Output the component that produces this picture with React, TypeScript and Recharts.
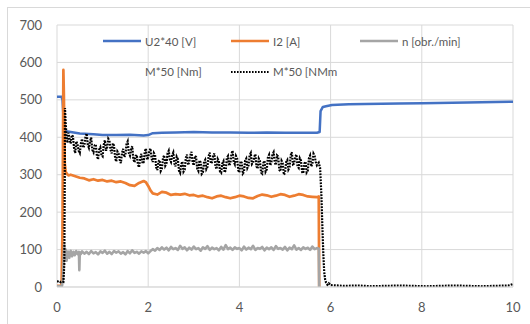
import React from 'react';
import { LineChart, Line, XAxis, YAxis, CartesianGrid, Legend } from 'recharts';

const FONT = 'Lato, "Open Sans", sans-serif';
const TEXT = '#595959';
const GRID = '#d9d9d9';

const xTicks = [0, 2, 4, 6, 8, 10];
const yTicks = [0, 100, 200, 300, 400, 500, 600, 700];

// U2*40 [V]
const uTime = [0, 0.1, 0.12, 0.14, 0.16, 0.2, 0.3, 0.5, 0.8, 1.0, 1.3, 1.6, 1.9, 2.0, 2.1, 2.3, 2.6, 3.0, 3.4, 3.8, 4.2, 4.6, 5.0, 5.4, 5.7, 5.76, 5.78, 5.83, 5.9, 6.03, 6.4, 6.75, 7.5, 8.0, 9.0, 10.0];
const uValues = [508, 508, 500, 460, 418, 416, 414, 410, 408, 406, 406, 407, 405, 406, 411, 412, 413, 414, 413, 413, 412, 413, 412, 412, 412, 414, 470, 481, 483, 486, 488, 489, 490, 491, 493, 495];

// I2 [A]
const iTime = [0, 0.05, 0.1, 0.12, 0.14, 0.15, 0.17, 0.19, 0.22, 0.25, 0.3, 0.4, 0.5, 0.6, 0.7, 0.8, 0.9, 1.0, 1.1, 1.2, 1.3, 1.4, 1.5, 1.6, 1.7, 1.8, 1.9, 1.95, 2.0, 2.05, 2.1, 2.2, 2.3, 2.4, 2.5, 2.6, 2.7, 2.8, 2.9, 3.0, 3.1, 3.2, 3.3, 3.4, 3.5, 3.6, 3.7, 3.8, 3.9, 4.0, 4.1, 4.2, 4.3, 4.4, 4.5, 4.6, 4.7, 4.8, 4.9, 5.0, 5.1, 5.2, 5.3, 5.4, 5.5, 5.6, 5.7, 5.74, 5.75];
const iValues = [3, 3, 4, 150, 580, 520, 330, 308, 302, 298, 300, 296, 292, 290, 285, 288, 284, 286, 282, 284, 280, 282, 278, 272, 270, 278, 283, 280, 270, 258, 250, 247, 254, 252, 246, 248, 247, 249, 245, 246, 242, 244, 240, 237, 242, 244, 240, 237, 240, 244, 242, 238, 237, 243, 247, 245, 241, 244, 248, 246, 241, 244, 248, 246, 242, 241, 240, 242, 0];

// n [obr./min]
const nLeadTime = [0, 0.06, 0.11, 0.13, 0.15, 0.16, 0.17, 0.19, 0.21, 0.24, 0.27, 0.3, 0.33, 0.36, 0.39, 0.42, 0.45, 0.48, 0.49, 0.5, 0.52];
const nLeadValues = [2, 2, 3, 20, 85, 112, 75, 100, 70, 95, 78, 97, 82, 94, 85, 96, 88, 94, 45, 93, 88];
const nStart = 0.55;
const nStep = 0.05;
const nValues = [
  95, 89, 94, 88, 96, 90, 93, 87, 95, 91,
  97, 89, 94, 88, 96, 92, 95, 89, 93, 87,
  96, 90, 98, 91, 94, 89, 95, 92, 96, 90,
  96, 101, 97, 104, 99, 106, 100, 105, 98, 107,
  101, 104, 99, 110, 102, 106, 98, 105, 100, 108,
  101, 104, 97, 106, 102, 109, 99, 105, 101, 104,
  98, 107, 100, 112, 101, 105, 99, 106, 102, 104,
  98, 108, 100, 105, 101, 110, 99, 104, 102, 107,
  98, 105, 101, 106, 99, 109, 102, 104, 100, 107,
  98, 105, 101, 111, 100, 104, 99, 106, 102, 105,
  99, 108, 101, 104,
];
const nTailTime = [5.74, 5.75];
const nTailValues = [103, 0];

// M*50 [NMm]
const mLeadTime = [0, 0.04, 0.08, 0.11, 0.14, 0.16, 0.17, 0.175, 0.19, 0.21, 0.23];
const mLeadValues = [14, 16, 13, 15, 14, 60, 300, 478, 440, 400, 385];
const mStart = 0.25;
const mStep = 0.025;
const mValues = [
  412, 395, 383, 406, 402, 370, 358, 389, 380, 364, 358, 384, 396, 372, 378, 401, 410, 380,
  372, 390, 399, 366, 360, 378, 381, 350, 341, 367, 373, 352, 349, 380, 392, 364, 373, 396,
  391, 366, 357, 384, 378, 344, 335, 362, 357, 340, 331, 358, 369, 347, 353, 382, 389, 358,
  351, 369, 376, 341, 333, 350, 353, 327, 320, 345, 356, 330, 333, 362, 370, 340, 346, 362,
  370, 343, 334, 358, 353, 320, 312, 335, 339, 310, 316, 344, 352, 324, 330, 357, 364, 340,
  334, 352, 359, 330, 322, 348, 342, 311, 305, 328, 335, 308, 313, 345, 354, 326, 334, 352,
  361, 332, 325, 350, 347, 316, 310, 338, 333, 302, 306, 335, 340, 315, 321, 350, 359, 330,
  334, 350, 357, 322, 315, 342, 336, 308, 305, 330, 336, 306, 312, 345, 350, 324, 330, 355,
  364, 335, 328, 350, 344, 312, 306, 336, 332, 303, 307, 338, 343, 318, 325, 352, 358, 328,
  332, 348, 355, 322, 316, 343, 337, 306, 303, 331, 337, 308, 314, 346, 353, 325, 332, 354,
  360, 333, 326, 352, 349, 313, 309, 337, 331, 300, 305, 334, 339, 314, 320, 352, 360, 328,
  330, 347, 354, 322, 318, 344, 338, 307, 304, 330, 335, 306, 311, 344, 351, 322, 329, 356,
  350, 334, 325,
];
const mTailTime = [5.74, 5.77, 5.8, 5.82, 5.84, 5.86, 5.88, 5.9, 5.93, 5.96, 6.0, 6.3, 6.6, 6.9, 7.2, 7.5, 7.8, 8.1, 8.4, 8.7, 9.0, 9.3, 9.6, 9.9, 10.0];
const mTailValues = [332, 318, 240, 160, 90, 40, 20, 12, 6, 10, 5, 3, 4, 2, 3, 4, 3, 2, 3, 4, 3, 2, 3, 4, 8];

const seriesNames = ['U2*40 [V]', 'I2 [A]', 'n [obr./min]', 'M*50 [Nm]', 'M*50 [NMm'];

type Pt = { t: number; v: number };
const zip = (t: number[], v: number[]): Pt[] => t.map((x, i) => ({ t: x, v: v[i] }));
const sampled = (start: number, step: number, v: number[]): Pt[] =>
  v.map((y, i) => ({ t: Math.round((start + i * step) * 1000) / 1000, v: y }));

const uData = zip(uTime, uValues);
const iData = zip(iTime, iValues);
const nData = [...zip(nLeadTime, nLeadValues), ...sampled(nStart, nStep, nValues), ...zip(nTailTime, nTailValues)];
const mData = [...zip(mLeadTime, mLeadValues), ...sampled(mStart, mStep, mValues), ...zip(mTailTime, mTailValues)];
const emptyData: Pt[] = [];

const legendItems = [
  { name: seriesNames[0], color: '#4472C4', dash: undefined as string | undefined, x: 103, y: 41 },
  { name: seriesNames[1], color: '#ED7D31', dash: undefined, x: 231, y: 41 },
  { name: seriesNames[2], color: '#A5A5A5', dash: undefined, x: 360, y: 41 },
  { name: seriesNames[3], color: 'none', dash: undefined, x: 103, y: 71.5 },
  { name: seriesNames[4], color: '#000000', dash: '1.6 1.4', x: 231, y: 71.5 },
];

const LegendContent = () => (
  <div style={{ position: 'relative', width: 0, height: 0 }}>
    {legendItems.map((it) => (
      <div
        key={it.name}
        style={{
          position: 'absolute',
          left: it.x,
          top: it.y - 8,
          height: 16,
          display: 'flex',
          alignItems: 'center',
          whiteSpace: 'nowrap',
          fontFamily: FONT,
          fontSize: 11.5,
          color: TEXT,
        }}
      >
        <svg width={38} height={4} style={{ marginRight: 4 }}>
          {it.color !== 'none' && (
            <line x1={0} y1={2} x2={38} y2={2} stroke={it.color} strokeWidth={it.dash ? 2 : 2.5} strokeDasharray={it.dash} />
          )}
        </svg>
        <span>{it.name}</span>
      </div>
    ))}
  </div>
);

export default function App() {
  return (
    <div style={{ position: 'absolute', left: 0, top: 0, width: 530, height: 324, overflow: 'hidden', background: '#fff' }}>
      <div style={{ position: 'absolute', left: 7, top: 7, width: 600, height: 400, borderLeft: `1px solid ${GRID}`, borderTop: `1px solid ${GRID}` }} />
      <div style={{ position: 'absolute', left: 0, top: 0 }}>
        <LineChart width={530} height={324} margin={{ top: 25, right: 17, bottom: 7, left: 0 }}>
          <CartesianGrid stroke={GRID} strokeWidth={1} />
          <XAxis
            type="number"
            dataKey="t"
            domain={[0, 10]}
            ticks={xTicks}
            allowDataOverflow
            axisLine={{ stroke: GRID }}
            tickLine={false}
            tickSize={6}
            tickMargin={10}
            height={30}
            tick={{ fill: TEXT, fontSize: 13, fontFamily: FONT }}
          />
          <YAxis
            type="number"
            domain={[0, 700]}
            ticks={yTicks}
            allowDataOverflow
            axisLine={false}
            tickLine={false}
            tickSize={6}
            tickMargin={9}
            width={57}
            tick={{ fill: TEXT, fontSize: 13, fontFamily: FONT }}
          />
          <Legend
            content={<LegendContent />}
            wrapperStyle={{ position: 'absolute', left: 0, top: 0, width: 0, height: 0, overflow: 'visible' }}
          />
          <Line data={uData} dataKey="v" name={seriesNames[0]} type="linear" stroke="#4472C4" strokeWidth={2.5} dot={false} isAnimationActive={false} strokeLinejoin="round" />
          <Line data={iData} dataKey="v" name={seriesNames[1]} type="linear" stroke="#ED7D31" strokeWidth={2.7} dot={false} isAnimationActive={false} strokeLinejoin="round" />
          <Line data={nData} dataKey="v" name={seriesNames[2]} type="linear" stroke="#A5A5A5" strokeWidth={2.6} dot={false} isAnimationActive={false} strokeLinejoin="round" />
          <Line data={emptyData} dataKey="v" name={seriesNames[3]} type="linear" stroke="none" dot={false} isAnimationActive={false} />
          <Line data={mData} dataKey="v" name={seriesNames[4]} type="linear" stroke="#000000" strokeWidth={2.2} strokeDasharray="1.8 1.2" dot={false} isAnimationActive={false} />
        </LineChart>
      </div>
    </div>
  );
}
